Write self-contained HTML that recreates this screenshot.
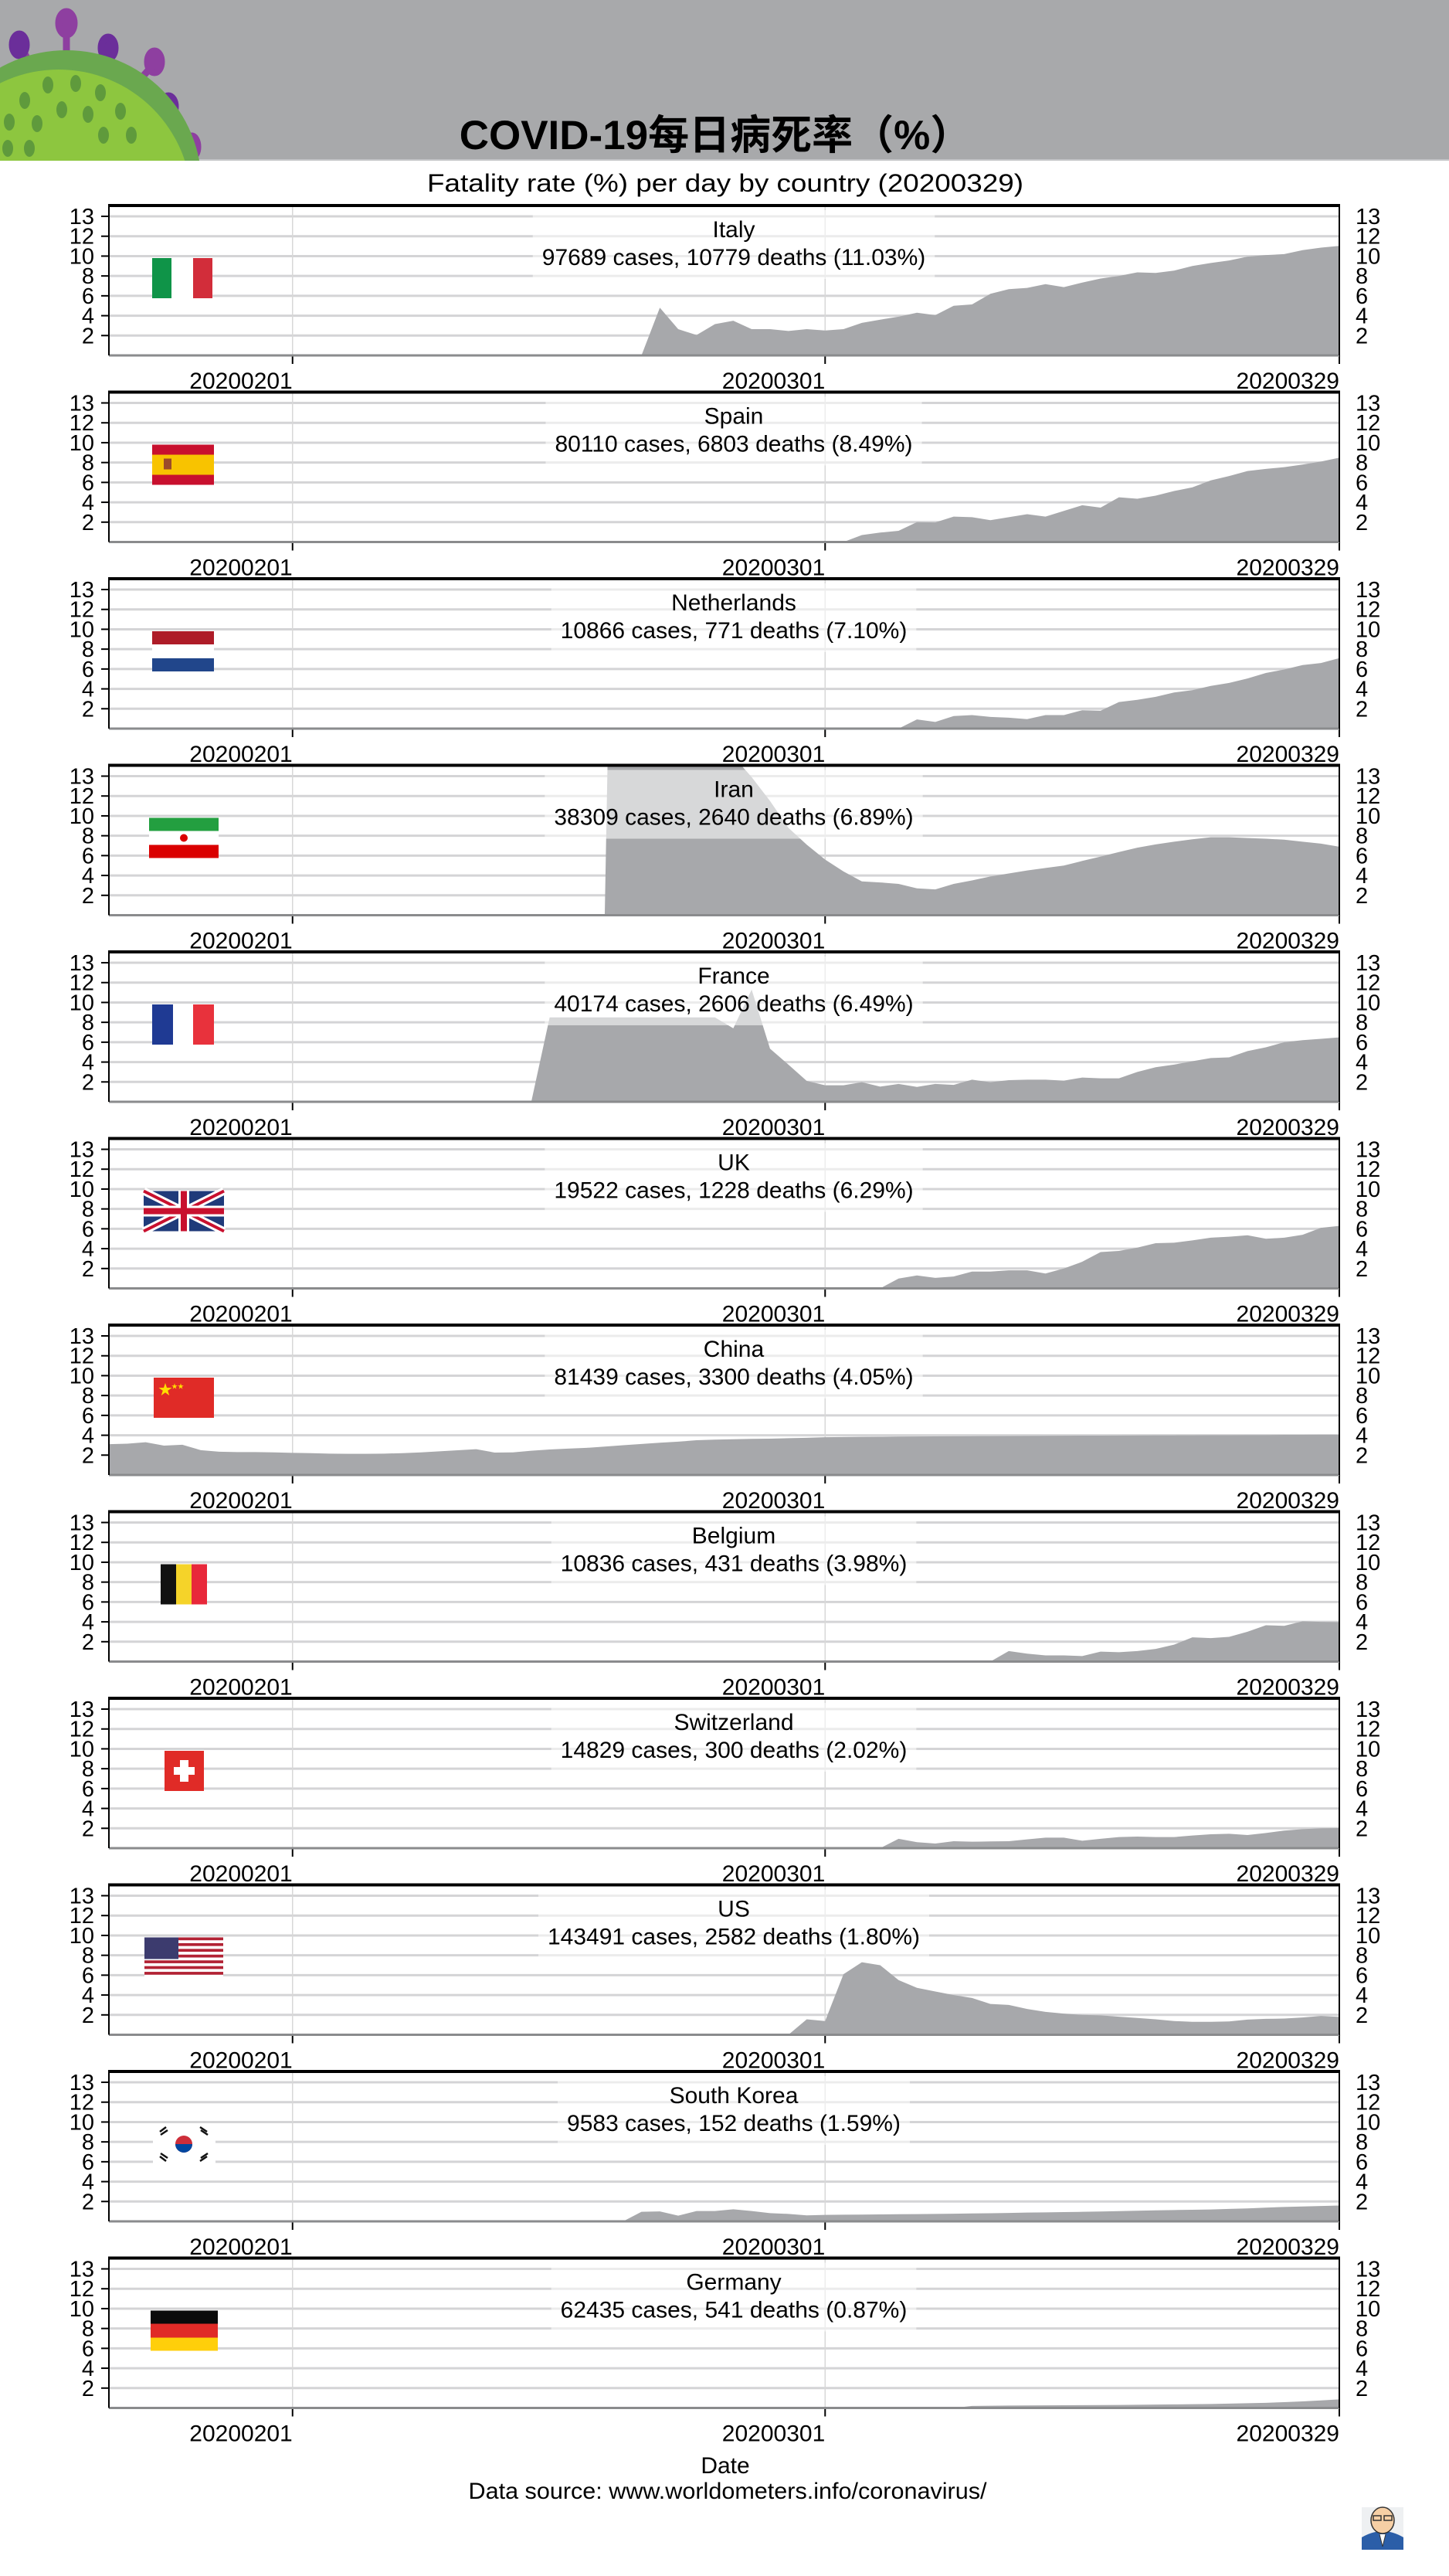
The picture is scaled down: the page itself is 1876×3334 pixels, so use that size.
<!DOCTYPE html>
<html><head><meta charset="utf-8">
<style>
html,body{margin:0;padding:0;background:#fff;}
svg{display:block;font-family:"Liberation Sans","Noto Sans CJK SC",sans-serif;}
</style></head>
<body>
<svg id="chart" xmlns="http://www.w3.org/2000/svg" width="1876" height="3334" viewBox="0 0 1876 3334">
  <rect x="0" y="0" width="1876" height="208" fill="#a8a9ab"/>
  <rect x="0" y="206" width="1876" height="2" fill="#c4c5c7"/>
  <g>
    <clipPath id="hdrclip"><rect x="0" y="0" width="1876" height="208"/></clipPath>
    <g clip-path="url(#hdrclip)">
      <g stroke="#8e3fa0" stroke-width="9" fill="#8e3fa0">
        <line x1="86" y1="70" x2="86" y2="30"/><ellipse cx="86" cy="30" rx="10" ry="15"/>
        <line x1="40" y1="85" x2="26" y2="58"/><ellipse cx="25" cy="58" rx="9" ry="14" fill="#6b2e9a" stroke="#6b2e9a"/>
        <line x1="128" y1="90" x2="138" y2="62"/><ellipse cx="140" cy="62" rx="9" ry="14" fill="#6b2e9a" stroke="#6b2e9a"/>
        <line x1="175" y1="110" x2="200" y2="82"/><ellipse cx="200" cy="80" rx="9" ry="14"/>
        <line x1="195" y1="150" x2="218" y2="138"/><ellipse cx="218" cy="138" rx="9" ry="14" fill="#6b2e9a" stroke="#6b2e9a"/>
        <line x1="205" y1="192" x2="245" y2="192"/><ellipse cx="248" cy="190" rx="8" ry="14"/>
      </g>
      <circle cx="86" cy="240" r="175" fill="#6aa84f"/>
      <circle cx="76" cy="262" r="172" fill="#8dc63f"/>
      <g fill="#5f9a3c">
        <ellipse cx="62" cy="110" rx="7" ry="11"/><ellipse cx="98" cy="108" rx="7" ry="11"/><ellipse cx="130" cy="120" rx="7" ry="11"/>
        <ellipse cx="32" cy="130" rx="7" ry="11"/><ellipse cx="80" cy="142" rx="7" ry="11"/><ellipse cx="114" cy="148" rx="7" ry="11"/>
        <ellipse cx="156" cy="144" rx="7" ry="11"/><ellipse cx="12" cy="158" rx="7" ry="11"/><ellipse cx="48" cy="160" rx="7" ry="11"/>
        <ellipse cx="134" cy="175" rx="7" ry="11"/><ellipse cx="170" cy="175" rx="7" ry="11"/><ellipse cx="10" cy="192" rx="7" ry="11"/><ellipse cx="38" cy="192" rx="7" ry="11"/>
      </g>
    </g>
  </g>
  <text x="926" y="193" text-anchor="middle" font-size="53" font-weight="bold" fill="#000">COVID-19每日病死率（%）</text>
  <text x="939" y="248" text-anchor="middle" font-size="32" textLength="772" lengthAdjust="spacingAndGlyphs" fill="#000">Fatality rate (%) per day by country (20200329)</text>
  <g id="panels"></g>
  <text x="939" y="3201" text-anchor="middle" font-size="30" fill="#000">Date</text>
  <text x="942" y="3234" text-anchor="middle" font-size="30" textLength="671" lengthAdjust="spacingAndGlyphs" fill="#000">Data source: www.worldometers.info/coronavirus/</text>
  <g>
    <rect x="1763" y="3245" width="54" height="55" fill="#eef0f2"/>
    <path d="M1763 3300 L1763 3284 Q1790 3268 1817 3284 L1817 3300 Z" fill="#2b5ea8"/>
    <ellipse cx="1790" cy="3262" rx="15" ry="17" fill="#f6cfa5" stroke="#333" stroke-width="1.5"/>
    <rect x="1778" y="3256" width="10" height="6" fill="none" stroke="#333" stroke-width="1.5"/>
    <rect x="1792" y="3256" width="10" height="6" fill="none" stroke="#333" stroke-width="1.5"/>
    <path d="M1786 3280 L1790 3296 L1794 3280" fill="#fff" stroke="#333" stroke-width="1"/>
  </g>
</svg>
<script>
// ---- data ----
const countries = ["Italy","Spain","Netherlands","Iran","France","UK","China","Belgium","Switzerland","US","South Korea","Germany"];
const caseCounts = [97689,80110,10866,38309,40174,19522,81439,10836,14829,143491,9583,62435];
const deathCounts = [10779,6803,771,2640,2606,1228,3300,431,300,2582,152,541];
const rateLabels = ["11.03","8.49","7.10","6.89","6.49","6.29","4.05","3.98","2.02","1.80","1.59","0.87"];
const xTickLabels = ["20200201","20200301","20200329"];
const xTickDays = [10,39,67];
const yTickValues = [2,4,6,8,10,12,14];
const yTickLabels = ["2","4","6","8","10","12","13"];
const italy = Array(30).fill(0).concat([4.8,2.64,2.05,3.15,3.49,2.64,2.64,2.46,2.64,2.51,2.64,3.28,3.6,3.9,4.3,4.05,5.0,5.13,6.2,6.67,6.8,7.18,6.87,7.33,7.74,8.0,8.36,8.3,8.54,9.0,9.3,9.56,9.95,10.1,10.2,10.6,10.85,11.03]);
const spain = Array(41).fill(0).concat([0.7,0.95,1.13,2.0,1.97,2.56,2.5,2.2,2.5,2.8,2.56,3.13,3.7,3.46,4.5,4.36,4.67,5.13,5.5,6.2,6.64,7.15,7.36,7.54,7.8,8.1,8.49]);
const netherlands = Array(44).fill(0).concat([0.92,0.67,1.26,1.36,1.18,1.1,0.95,1.36,1.36,1.85,1.8,2.67,2.9,3.2,3.64,3.87,4.3,4.6,5.05,5.6,5.95,6.4,6.6,7.1]);
const iran = Array(28).fill(0).concat([100,40,25,21,18,17,16,13.9,11.5,8.8,7.1,5.6,4.4,3.4,3.3,3.15,2.7,2.6,3.15,3.5,3.9,4.2,4.5,4.75,5.0,5.46,5.9,6.36,6.8,7.13,7.4,7.64,7.85,7.85,7.77,7.7,7.6,7.4,7.2,6.89]);
const france = Array(24).fill(0).concat([8.5,8.5,8.5,8.5,8.5,8.5,8.5,8.5,8.5,8.5,7.4,11.3,5.35,3.74,2.1,1.66,1.66,1.97,1.53,1.8,1.5,1.8,1.7,2.23,1.97,2.18,2.23,2.23,2.13,2.44,2.36,2.36,3.0,3.48,3.74,4.08,4.4,4.47,5.1,5.48,6.0,6.2,6.34,6.49]);
const uk = Array(43).fill(0).concat([0.99,1.3,1.06,1.2,1.69,1.69,1.82,1.82,1.5,2.0,2.68,3.66,3.77,4.1,4.55,4.6,4.83,5.1,5.2,5.35,5.0,5.1,5.4,6.1,6.29]);
const china = [3.1,3.15,3.3,2.96,3.04,2.5,2.34,2.3,2.3,2.28,2.23,2.2,2.15,2.13,2.13,2.15,2.2,2.28,2.38,2.49,2.6,2.26,2.28,2.44,2.57,2.65,2.73,2.86,2.99,3.12,3.25,3.35,3.5,3.56,3.6,3.64,3.66,3.7,3.74,3.8,3.82,3.84,3.85,3.87,3.88,3.89,3.9,3.91,3.92,3.93,3.94,3.95,3.96,3.97,3.97,3.98,3.99,4.0,4.0,4.01,4.02,4.02,4.03,4.03,4.04,4.04,4.05,4.05];
const belgium = Array(49).fill(0).concat([1.06,0.8,0.62,0.62,0.55,1.0,0.94,1.06,1.27,1.7,2.44,2.36,2.49,3.0,3.66,3.6,4.05,4.0,3.98]);
const switzerland = Array(43).fill(0).concat([0.94,0.6,0.47,0.7,0.65,0.68,0.7,0.88,1.06,1.06,0.75,0.94,1.12,1.17,1.12,1.12,1.27,1.4,1.45,1.32,1.53,1.77,1.92,2.0,2.02]);
const us = Array(38).fill(0).concat([1.56,1.38,6.1,7.3,7.0,5.5,4.73,4.36,4.0,3.7,3.1,3.0,2.6,2.3,2.13,2.0,1.95,1.82,1.69,1.56,1.38,1.3,1.3,1.34,1.53,1.6,1.63,1.74,1.9,1.8]);
const southKorea = Array(29).fill(0).concat([0.96,1.0,0.57,1.04,1.04,1.22,1.04,0.83,0.75,0.6,0.65,0.67,0.68,0.7,0.72,0.73,0.75,0.77,0.8,0.82,0.85,0.88,0.9,0.93,0.96,0.99,1.03,1.07,1.11,1.14,1.17,1.2,1.25,1.3,1.38,1.45,1.5,1.55,1.59]);
const germany = Array(47).fill(0).concat([0.2,0.22,0.24,0.25,0.26,0.27,0.28,0.29,0.3,0.32,0.34,0.36,0.38,0.4,0.44,0.48,0.52,0.58,0.66,0.76,0.87]);
const seriesList = [italy,spain,netherlands,iran,france,uk,china,belgium,switzerland,us,southKorea,germany];

// ---- layout ----
const NS = "http://www.w3.org/2000/svg";
const PL = 141, PR = 1734, PH = 194, PITCH = 241.5, TOP0 = 266;
const DAYS = 67, YMAX = 15.09;
function xScale(d){ return PL + (PR - PL) * d / DAYS; }
function yScale(v, B){ return B - v * PH / YMAX; }
function mk(tag, attrs, parent){
  const e = document.createElementNS(NS, tag);
  for (const k in attrs) e.setAttribute(k, attrs[k]);
  parent.appendChild(e);
  return e;
}
const root = document.getElementById('panels');

function drawFlag(g, name, cy){
  const t = cy - 26, h = 52;
  const R = (x,y,w,hh,f)=>mk('rect',{x:x,y:y,width:w,height:hh,fill:f},g);
  if (name === "Italy"){ R(197,t,25,h,"#0f9448"); R(222,t,28,h,"#fff"); R(250,t,25,h,"#d22d3a"); }
  else if (name === "Spain"){ R(197,t,80,h,"#c8102e"); R(197,t+13,80,26,"#f8c300"); R(212,t+18,10,14,"#9b4b2a"); }
  else if (name === "Netherlands"){ R(197,t,80,17,"#ae1c28"); R(197,t+17,80,18,"#fff"); R(197,t+35,80,17,"#21468b"); }
  else if (name === "Iran"){ R(193,t,90,17,"#239f40"); R(193,t+17,90,18,"#fff"); R(193,t+35,90,17,"#da0000"); mk('circle',{cx:238,cy:t+26,r:5,fill:"#da0000"},g); }
  else if (name === "France"){ R(197,t,27,h,"#1f3a93"); R(224,t,26,h,"#fff"); R(250,t,27,h,"#e8323c"); }
  else if (name === "UK"){
    R(186,t,104,h,"#1f3a7a");
    mk('path',{d:`M186 ${t} L290 ${t+h} M290 ${t} L186 ${t+h}`,stroke:"#fff","stroke-width":10},g);
    mk('path',{d:`M186 ${t} L290 ${t+h} M290 ${t} L186 ${t+h}`,stroke:"#c8102e","stroke-width":4},g);
    R(186,t+19,104,14,"#fff"); R(231,t,14,h,"#fff"); R(186,t+22,104,8,"#c8102e"); R(234,t,8,h,"#c8102e");
  }
  else if (name === "China"){ R(199,t,78,h,"#e02b27"); mk('text',{x:205,y:t+22,"font-size":18,fill:"#ffde00"},g).textContent="★"; mk('text',{x:222,y:t+14,"font-size":8,fill:"#ffde00"},g).textContent="★★"; }
  else if (name === "Belgium"){ R(208,t,20,h,"#111"); R(228,t,20,h,"#f5d329"); R(248,t,20,h,"#e8283a"); }
  else if (name === "Switzerland"){ R(213,t,51,h,"#e02b27"); R(233,t+12,11,28,"#fff"); R(225,t+21,27,10,"#fff"); }
  else if (name === "US"){
    R(187,t,102,h,"#fff");
    for (let i=0;i<7;i++) R(187,t+i*7.43,102,3.7,"#b22234");
    R(187,t,44,28,"#3c3b6e");
  }
  else if (name === "South Korea"){
    R(198,t,81,h,"#fff");
    mk('circle',{cx:238,cy:t+26,r:11,fill:"#cd2e3a"},g);
    mk('path',{d:`M227 ${t+26} A11 11 0 0 0 249 ${t+26} Z`,fill:"#0047a0"},g);
    mk('path',{d:`M207 ${t+10} L215 ${t+4} M208 ${t+14} L217 ${t+8} M259 ${t+4} L268 ${t+10} M260 ${t+8} L269 ${t+14} M207 ${t+42} L215 ${t+48} M208 ${t+38} L217 ${t+44} M259 ${t+48} L268 ${t+42} M260 ${t+44} L269 ${t+38}`,stroke:"#111","stroke-width":2.5},g);
  }
  else if (name === "Germany"){ R(195,t,87,17,"#0a0a0a"); R(195,t+17,87,18,"#e02b27"); R(195,t+35,87,17,"#ffcf0a"); }
}

countries.forEach((name, i) => {
  const T = TOP0 + i * PITCH, B = T + PH;
  const g = mk('g', {}, root);
  
  

  yTickValues.forEach((v, k) => {
    const gl = mk('line', {x1:PL, x2:PR, y1:yScale(v,B), y2:yScale(v,B), stroke:"#d4d4d6", "stroke-width":3}, g);
    
    
    const tk = mk('line', {x1:PL-10, x2:PL, y1:yScale(v,B), y2:yScale(v,B), stroke:"#000", "stroke-width":2}, g);
    
    
    const lt = mk('text', {x:122, y:yScale(v,B)+10, "text-anchor":"end", "font-size":29, fill:"#000"}, g);
    lt.textContent = yTickLabels[k];
    
    
    const rt = mk('text', {x:1755, y:yScale(v,B)+10, "text-anchor":"start", "font-size":29, fill:"#000"}, g);
    rt.textContent = yTickLabels[k];
    
    
  });
  xTickDays.forEach((d, k) => {
    if (k < 2) {
      const vl = mk('line', {x1:xScale(d), x2:xScale(d), y1:T, y2:B, stroke:"#d8d8d8", "stroke-width":1.5}, g);
      
      
    }
    const tk = mk('line', {x1:xScale(d), x2:xScale(d), y1:B, y2:B+11, stroke:"#000", "stroke-width":2}, g);
    
    
    const tl = mk('text', {x:xScale(d), y:B+43, "text-anchor":"end", "font-size":30, fill:"#000"}, g);
    tl.textContent = xTickLabels[k];
    
    
  });

  const cp = mk('clipPath', {id:'clip'+i}, g);
  mk('rect', {x:PL, y:T, width:PR-PL, height:PH}, cp);
  const s = seriesList[i];
  let d = `M${xScale(0)} ${B}`;
  s.forEach((v, k) => { d += ` L${xScale(k)} ${yScale(v,B)}`; });
  d += ` L${xScale(s.length-1)} ${B} Z`;
  const area = mk('path', {d:d, fill:"#a7a8ab", "clip-path":`url(#clip${i})`}, g);
  
  

  const box = mk('rect', {fill:"#ffffff", "fill-opacity":0.55}, g);
  
  
  const t1 = mk('text', {x:950, y:T+41, "text-anchor":"middle", "font-size":30, fill:"#000"}, g);
  t1.textContent = name;
  
  
  const t2 = mk('text', {x:950, y:T+77, "text-anchor":"middle", "font-size":30, fill:"#000"}, g);
  t2.textContent = `${caseCounts[i]} cases, ${deathCounts[i]} deaths (${rateLabels[i]}%)`;
  
  
  const w = Math.max(t1.getComputedTextLength(), t2.getComputedTextLength());
  box.setAttribute('x', 950 - w/2 - 12);
  box.setAttribute('width', w + 24);
  box.setAttribute('y', T + 6);
  box.setAttribute('height', 89);

  const fg = mk('g', {}, g);
  
  
  drawFlag(fg, name, T + 94);

  const base = mk('line', {x1:PL, x2:PR, y1:B, y2:B, stroke:"#8a8b8d", "stroke-width":3}, g);
  
  
  const top = mk('line', {x1:PL-1, x2:PR+1, y1:T, y2:T, stroke:"#000", "stroke-width":4}, g);
  
  
  const lft = mk('line', {x1:PL, x2:PL, y1:T, y2:B, stroke:"#000", "stroke-width":2}, g);
  
  
  const rgt = mk('line', {x1:PR, x2:PR, y1:T, y2:B, stroke:"#000", "stroke-width":2}, g);
  
  
});
</script>
</body></html>
